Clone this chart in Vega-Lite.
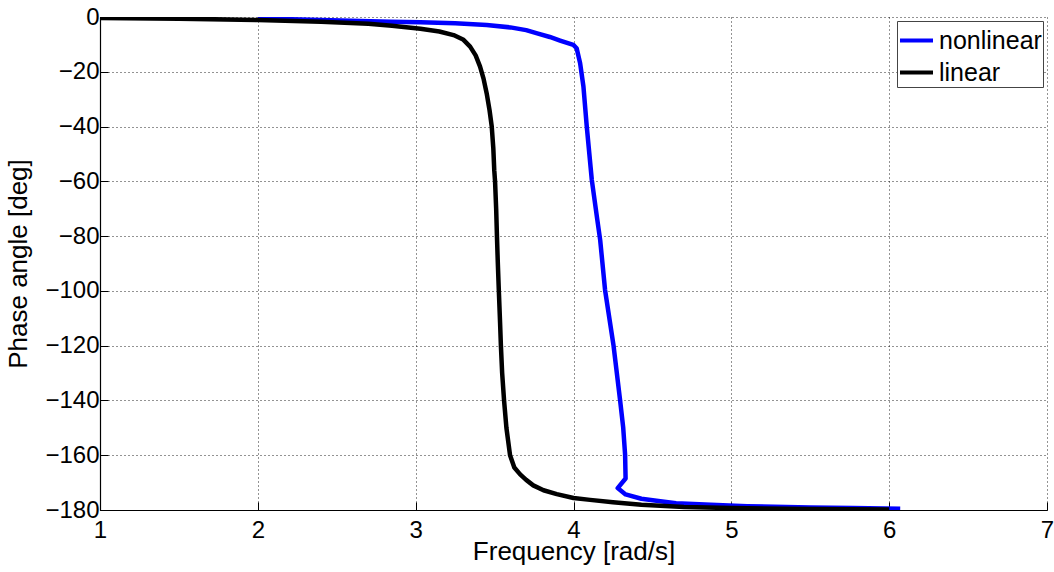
{
  "$schema": "https://vega.github.io/schema/vega-lite/v6.json",
  "width": 947,
  "height": 493,
  "autosize": {"type": "none"},
  "padding": {"left": 100, "top": 17, "right": 7, "bottom": 62},
  "background": "white",
  "config": {
    "view": {"stroke": null},
    "font": "Liberation Sans",
    "axis": {
      "labelFont": "Liberation Sans",
      "titleFont": "Liberation Sans",
      "labelFontSize": 24,
      "titleFontSize": 26,
      "titleFontWeight": "normal",
      "labelColor": "black",
      "titleColor": "black",
      "domainColor": "black",
      "domainWidth": 1.2,
      "tickColor": "black",
      "tickSize": -8,
      "gridColor": "black",
      "gridDash": [1, 3],
      "gridOpacity": 0.85,
      "gridWidth": 1
    }
  },
  "datasets": {
    "phase": [
      {"i": 1, "series": "nonlinear", "f": 2.0, "p": -0.5},
      {"i": 2, "series": "nonlinear", "f": 2.4, "p": -1.1},
      {"i": 3, "series": "nonlinear", "f": 2.84, "p": -1.7},
      {"i": 4, "series": "nonlinear", "f": 3.03, "p": -1.9},
      {"i": 5, "series": "nonlinear", "f": 3.25, "p": -2.3},
      {"i": 6, "series": "nonlinear", "f": 3.45, "p": -2.9},
      {"i": 7, "series": "nonlinear", "f": 3.6, "p": -3.8},
      {"i": 8, "series": "nonlinear", "f": 3.7, "p": -4.8},
      {"i": 9, "series": "nonlinear", "f": 3.77, "p": -6.0},
      {"i": 10, "series": "nonlinear", "f": 3.85, "p": -7.3},
      {"i": 11, "series": "nonlinear", "f": 3.915, "p": -8.6},
      {"i": 12, "series": "nonlinear", "f": 3.999, "p": -10.2},
      {"i": 13, "series": "nonlinear", "f": 4.02, "p": -11.4},
      {"i": 14, "series": "nonlinear", "f": 4.042, "p": -16.9},
      {"i": 15, "series": "nonlinear", "f": 4.063, "p": -25.4},
      {"i": 16, "series": "nonlinear", "f": 4.084, "p": -40},
      {"i": 17, "series": "nonlinear", "f": 4.116, "p": -59.5},
      {"i": 18, "series": "nonlinear", "f": 4.151, "p": -74.1},
      {"i": 19, "series": "nonlinear", "f": 4.169, "p": -81.4},
      {"i": 20, "series": "nonlinear", "f": 4.2, "p": -99.7},
      {"i": 21, "series": "nonlinear", "f": 4.253, "p": -119.7},
      {"i": 22, "series": "nonlinear", "f": 4.295, "p": -139.8},
      {"i": 23, "series": "nonlinear", "f": 4.315, "p": -150},
      {"i": 24, "series": "nonlinear", "f": 4.327, "p": -159.9},
      {"i": 25, "series": "nonlinear", "f": 4.33, "p": -168.5},
      {"i": 26, "series": "nonlinear", "f": 4.28, "p": -172},
      {"i": 27, "series": "nonlinear", "f": 4.33, "p": -174.3},
      {"i": 28, "series": "nonlinear", "f": 4.43, "p": -175.9},
      {"i": 29, "series": "nonlinear", "f": 4.55, "p": -176.8},
      {"i": 30, "series": "nonlinear", "f": 4.65, "p": -177.5},
      {"i": 31, "series": "nonlinear", "f": 4.87, "p": -178.1},
      {"i": 32, "series": "nonlinear", "f": 5.1, "p": -178.6},
      {"i": 33, "series": "nonlinear", "f": 5.5, "p": -179.1},
      {"i": 34, "series": "nonlinear", "f": 5.77, "p": -179.3},
      {"i": 35, "series": "nonlinear", "f": 6.07, "p": -179.5},
      {"i": 101, "series": "linear", "f": 1.0, "p": -0.4},
      {"i": 102, "series": "linear", "f": 1.5, "p": -0.6},
      {"i": 103, "series": "linear", "f": 2.0, "p": -1.1},
      {"i": 104, "series": "linear", "f": 2.4, "p": -1.7},
      {"i": 105, "series": "linear", "f": 2.7, "p": -2.5},
      {"i": 106, "series": "linear", "f": 2.85, "p": -3.2},
      {"i": 107, "series": "linear", "f": 3.03, "p": -4.3},
      {"i": 108, "series": "linear", "f": 3.15, "p": -5.3},
      {"i": 109, "series": "linear", "f": 3.24, "p": -6.6},
      {"i": 110, "series": "linear", "f": 3.3, "p": -8.2},
      {"i": 111, "series": "linear", "f": 3.345, "p": -10.8},
      {"i": 112, "series": "linear", "f": 3.38, "p": -14},
      {"i": 113, "series": "linear", "f": 3.408, "p": -18.1},
      {"i": 114, "series": "linear", "f": 3.43, "p": -22.5},
      {"i": 115, "series": "linear", "f": 3.45, "p": -27.9},
      {"i": 116, "series": "linear", "f": 3.468, "p": -34},
      {"i": 117, "series": "linear", "f": 3.482, "p": -40},
      {"i": 118, "series": "linear", "f": 3.492, "p": -48},
      {"i": 119, "series": "linear", "f": 3.498, "p": -56},
      {"i": 120, "series": "linear", "f": 3.503, "p": -60},
      {"i": 121, "series": "linear", "f": 3.51, "p": -70},
      {"i": 122, "series": "linear", "f": 3.515, "p": -80},
      {"i": 123, "series": "linear", "f": 3.52, "p": -89},
      {"i": 124, "series": "linear", "f": 3.527, "p": -100},
      {"i": 125, "series": "linear", "f": 3.535, "p": -112},
      {"i": 126, "series": "linear", "f": 3.54, "p": -120},
      {"i": 127, "series": "linear", "f": 3.548, "p": -130},
      {"i": 128, "series": "linear", "f": 3.56, "p": -140},
      {"i": 129, "series": "linear", "f": 3.575, "p": -150},
      {"i": 130, "series": "linear", "f": 3.598, "p": -160},
      {"i": 131, "series": "linear", "f": 3.625, "p": -164.5},
      {"i": 132, "series": "linear", "f": 3.662, "p": -167},
      {"i": 133, "series": "linear", "f": 3.7, "p": -169},
      {"i": 134, "series": "linear", "f": 3.745, "p": -171},
      {"i": 135, "series": "linear", "f": 3.81, "p": -172.8},
      {"i": 136, "series": "linear", "f": 3.894, "p": -174.2},
      {"i": 137, "series": "linear", "f": 4.0, "p": -175.6},
      {"i": 138, "series": "linear", "f": 4.105, "p": -176.3},
      {"i": 139, "series": "linear", "f": 4.25, "p": -177.2},
      {"i": 140, "series": "linear", "f": 4.43, "p": -178.1},
      {"i": 141, "series": "linear", "f": 4.7, "p": -178.9},
      {"i": 142, "series": "linear", "f": 5.0, "p": -179.3},
      {"i": 143, "series": "linear", "f": 5.5, "p": -179.6},
      {"i": 144, "series": "linear", "f": 6.0, "p": -179.8}
    ]
  },
  "data": {"name": "phase"},
  "mark": {"type": "line", "strokeWidth": 4.5, "clip": true, "strokeJoin": "round"},
  "encoding": {
    "x": {
      "field": "f",
      "type": "quantitative",
      "scale": {"domain": [1, 7], "nice": false},
      "axis": {"values": [1, 2, 3, 4, 5, 6, 7], "title": "Frequency [rad/s]", "labelPadding": 16, "titlePadding": -4, "labelFlush": false}
    },
    "y": {
      "field": "p",
      "type": "quantitative",
      "scale": {"domain": [-180, 0], "nice": false, "zero": false},
      "axis": {"values": [-180, -160, -140, -120, -100, -80, -60, -40, -20, 0], "title": "Phase angle [deg]", "labelPadding": 9, "titlePadding": 13, "labelFlush": false}
    },
    "color": {
      "field": "series",
      "type": "nominal",
      "scale": {"domain": ["nonlinear", "linear"], "range": ["#0000ff", "#000000"]},
      "legend": {
        "title": null,
        "orient": "top-right",
        "offset": 4,
        "symbolType": "stroke",
        "symbolSize": 1089,
        "symbolStrokeWidth": 4,
        "labelFont": "Liberation Sans",
        "labelFontSize": 25,
        "labelColor": "black",
        "strokeColor": "#444",
        "fillColor": "white",
        "padding": 1,
        "rowPadding": -2,
        "labelOffset": 4
      }
    },
    "order": {"field": "i", "type": "quantitative"}
  }
}
